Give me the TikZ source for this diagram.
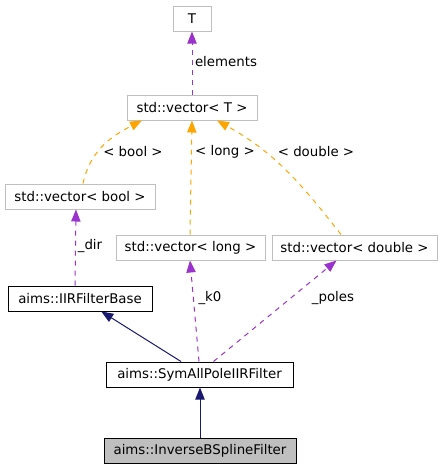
\documentclass[tikz,border=0pt]{standalone}
\usepackage{fontspec}
\setmainfont{DejaVu Sans}
\usetikzlibrary{arrows.meta}
\definecolor{gborder}{HTML}{BFBFBF}
\definecolor{ifill}{HTML}{BFBFBF}
\definecolor{navy}{HTML}{191970}
\definecolor{orchid}{HTML}{9A32CD}
\definecolor{orng}{HTML}{FFA500}
\tikzset{
  gbox/.style={draw=gborder, line width=0.75pt, minimum height=18.75pt, inner sep=0pt, font=\fontsize{10pt}{12pt}\selectfont, text=black},
  bbox/.style={gbox, draw=black},
  ibox/.style={bbox, fill=ifill},
  inh/.style={draw=navy, line width=0.75pt, -{Triangle[length=9pt,width=7pt,fill=navy]}},
  usage/.style={draw=orchid, line width=0.75pt, dash pattern=on 3.75pt off 3.75pt, -{Triangle[length=9pt,width=7pt,fill=orchid]}},
  tmpl/.style={draw=orng, line width=0.75pt, dash pattern=on 3.75pt off 3.75pt, -{Triangle[length=9pt,width=7pt,fill=orng]}},
  lbl/.style={font=\fontsize{10pt}{12pt}\selectfont, text=black, inner sep=0pt},
}
\begin{document}
\begin{tikzpicture}[x=0.75pt,y=-0.75pt]
\useasboundingbox (0,0) rectangle (443,469);
\node[gbox, minimum width=28.5pt] (T) at (192,18.5) {T};
\node[gbox, minimum width=97.5pt] (vecT) at (192,107.5) {std::vector< T >};
\node[gbox, minimum width=112.5pt] (vecbool) at (80,196.5) {std::vector< bool >};
\node[gbox, minimum width=111.75pt] (veclong) at (190.5,247.5) {std::vector< long >};
\node[gbox, minimum width=123.75pt] (vecdouble) at (354.5,247.5) {std::vector< double >};
\node[bbox, minimum width=108pt] (iir) at (80,298.5) {aims::IIRFilterBase};
\node[bbox, minimum width=140.25pt] (sym) at (199.5,374.5) {aims::SymAllPoleIIRFilter};
\node[ibox, minimum width=144pt] (inv) at (200,450.5) {aims::InverseBSplineFilter};

\draw[usage] (vecT.north) -- (T.south);
\node[lbl] (lelements) at (226,62) {elements};

\draw[tmpl] ([xshift=2.25pt]vecbool.north) to[out=78,in=207] ([xshift=-37.5pt]vecT.south);
\node[lbl] (lbool) at (133,152) {< bool >};

\draw[tmpl] ([xshift=-0.375pt]veclong.north) -- ([xshift=0pt]vecT.south);
\node[lbl] (llong) at (225,152) {< long >};

\draw[tmpl] ([xshift=-10.125pt]vecdouble.north) to[out=128,in=-29] ([xshift=18.75pt]vecT.south);
\node[lbl] (ldouble) at (316,152) {< double >};

\draw[usage] ([xshift=-3.75pt]iir.north) -- ([xshift=-3pt]vecbool.south);
\node[lbl] (ldir) at (90,246) {\_dir};

\draw[usage] ([xshift=-0.375pt]sym.north) -- ([xshift=-0.375pt]veclong.south);
\node[lbl] (lk0) at (210,298) {\_k0};

\draw[usage] ([xshift=10.5pt]sym.north) -- ([xshift=-13.5pt]vecdouble.south);
\node[lbl] (lpoles) at (333,298) {\_poles};

\draw[inh] ([xshift=-13.875pt]sym.north) -- ([xshift=16pt]iir.south);
\draw[inh] (inv.north) -- ([xshift=0.375pt]sym.south);
\end{tikzpicture}
\end{document}
